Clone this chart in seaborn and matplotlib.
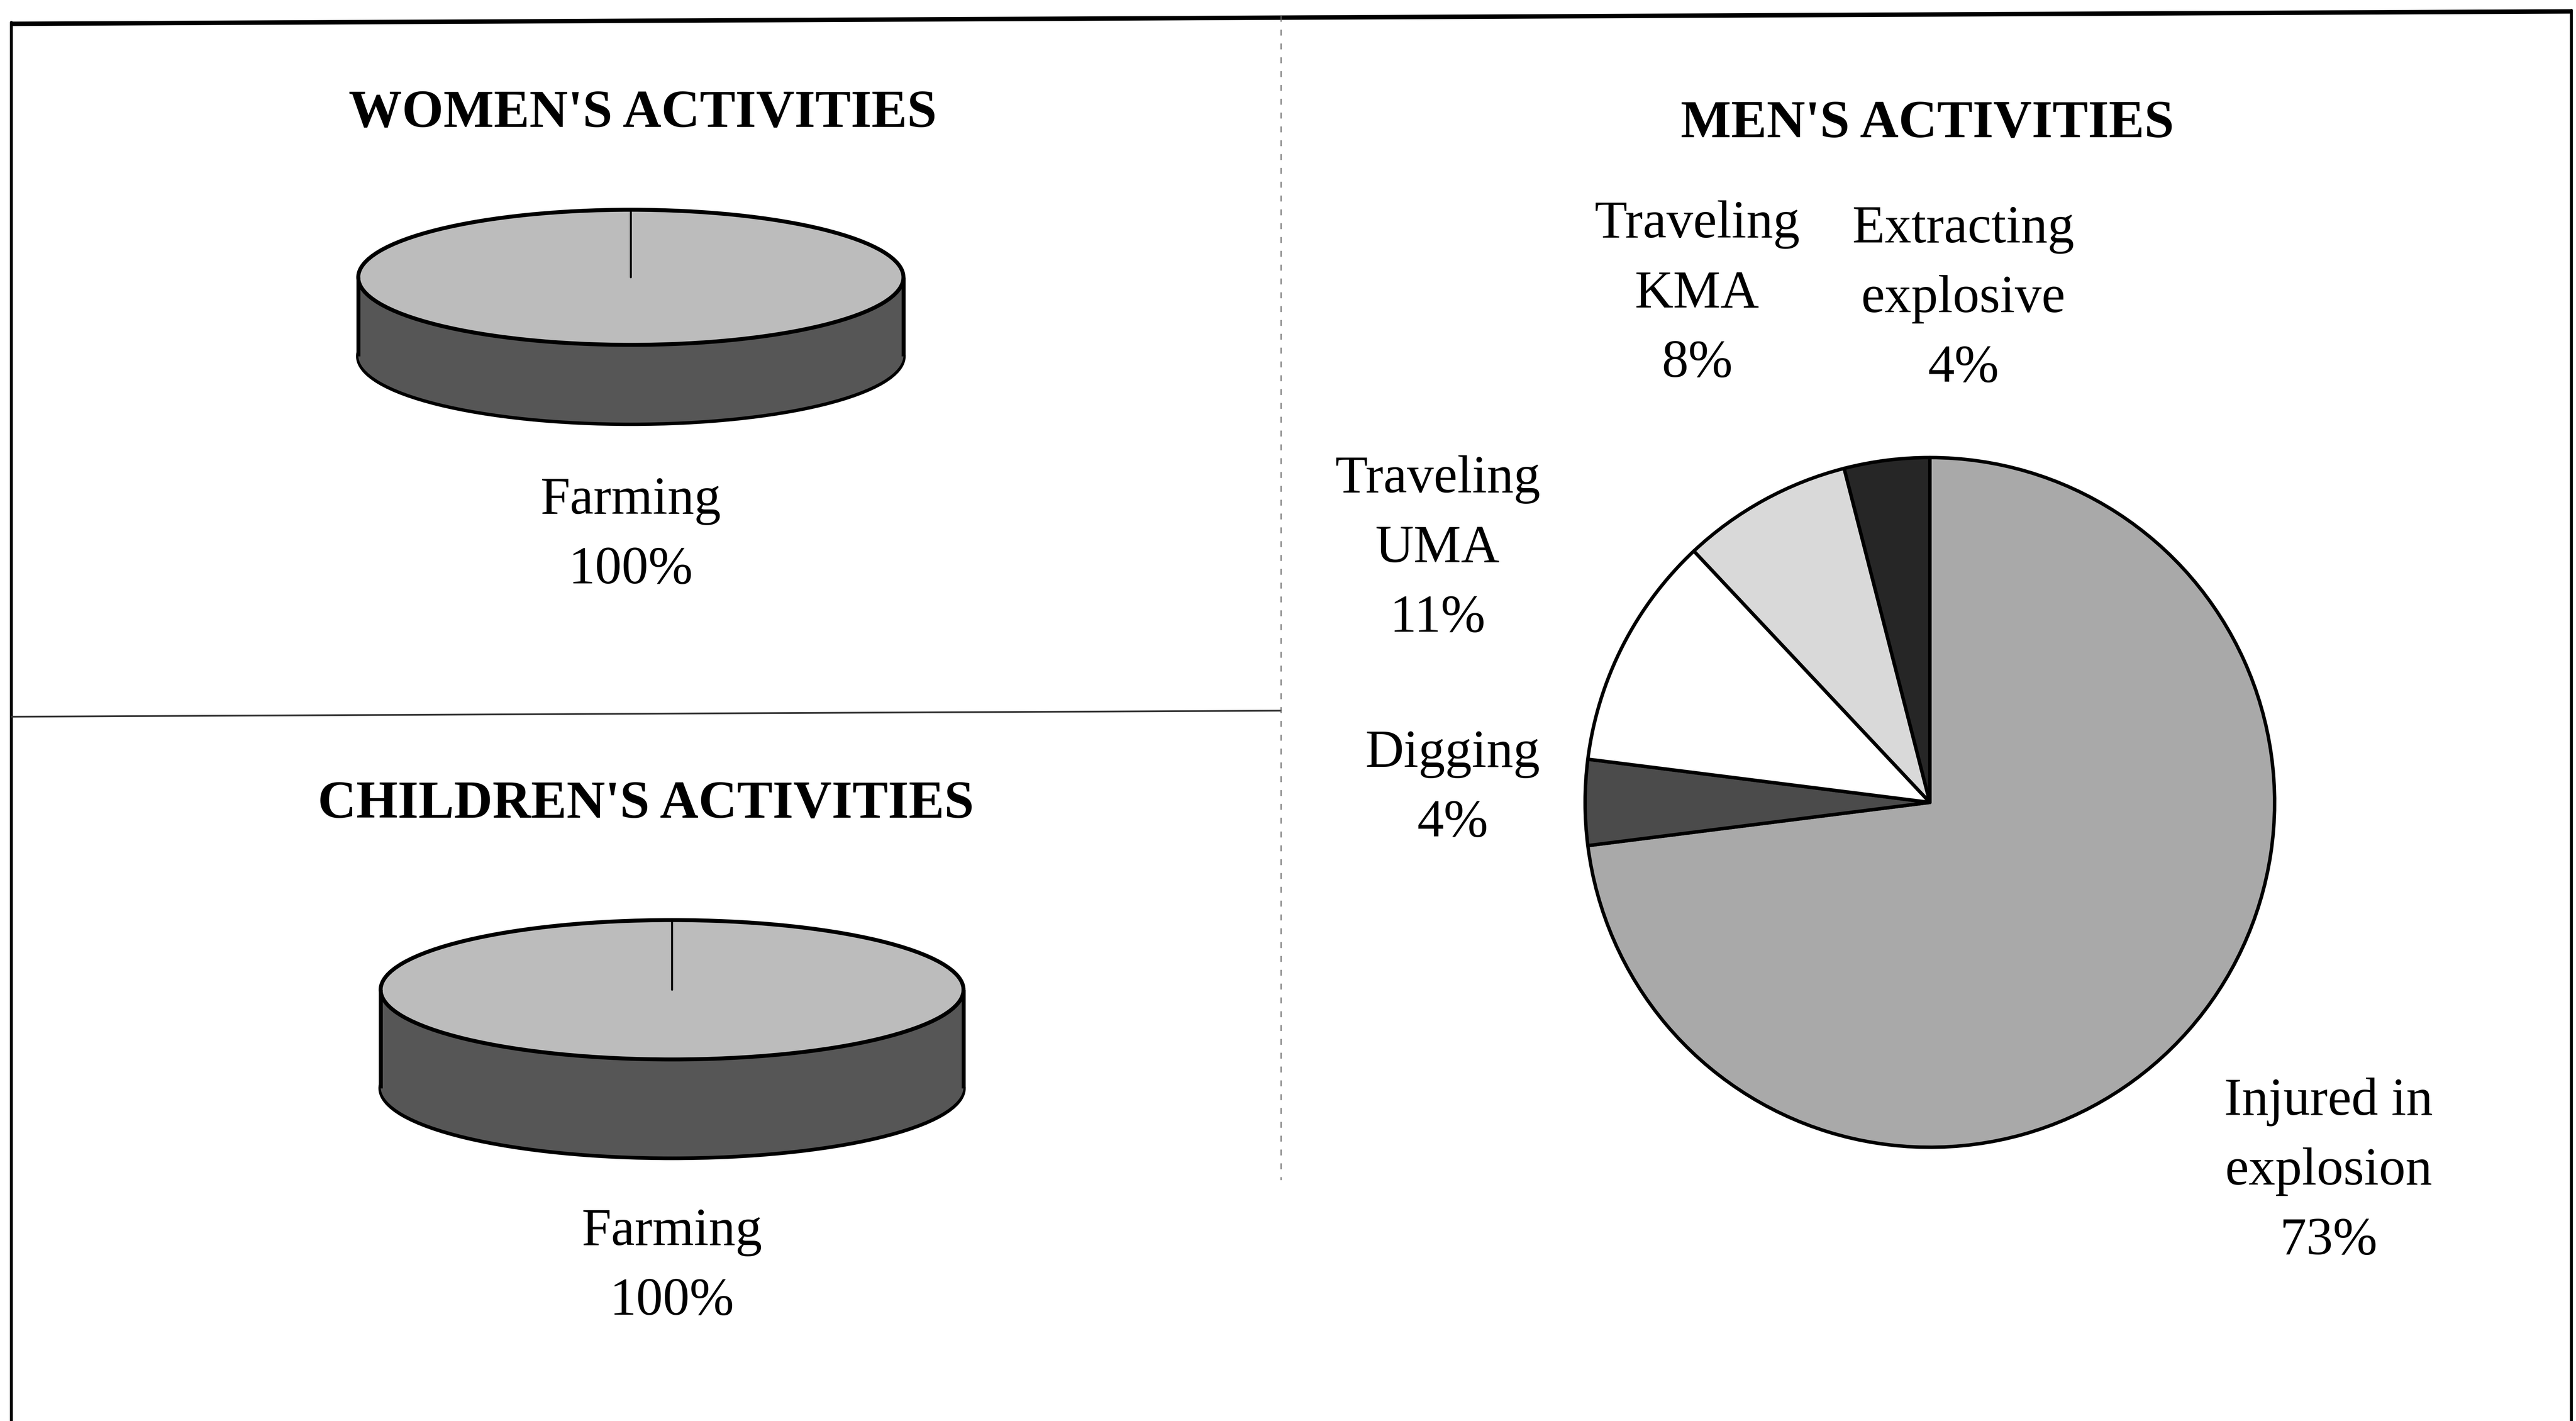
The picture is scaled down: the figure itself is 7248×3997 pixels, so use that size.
import numpy as np
import matplotlib
matplotlib.use("Agg")
import matplotlib.pyplot as plt
import seaborn as sns

# data
women_labels = ["Farming"]
women_values = [100]

children_labels = ["Farming"]
children_values = [100]

men_labels = ["Injured in\nexplosion", "Digging", "Traveling\nUMA",
              "Traveling\nKMA", "Extracting\nexplosive"]
men_values = [73, 4, 11, 8, 4]

titles = ["WOMEN'S ACTIVITIES", "CHILDREN'S ACTIVITIES", "MEN'S ACTIVITIES"]

# greys of the scanned print
men_colors = ["#a9a9a9", "#4b4b4b", "#ffffff", "#d9d9d9", "#262626"]
disc_top = "#bcbcbc"
disc_side = "#565656"

sns.set_theme(style="white")
plt.rcParams["font.family"] = ["Liberation Serif", "DejaVu Serif"]
plt.rcParams["text.color"] = "black"

W, H = 7249, 3998
fig = plt.figure(figsize=(W / 100, H / 100), dpi=100)
fig.patch.set_facecolor("white")

# background axes in pixel units for frame lines and text
bg = fig.add_axes([0, 0, 1, 1])
bg.set_xlim(0, W)
bg.set_ylim(H, 0)
bg.axis("off")


def px_axes(x0, y0, x1, y1):
    return fig.add_axes([x0 / W, 1 - y1 / H, (x1 - x0) / W, (y1 - y0) / H])


PAD = 1.03
FS = 108
STEP = 196


def write_label(x, y, text):
    for i, line in enumerate(text.split("\n")):
        bg.text(x, y + i * STEP, line, ha="center", va="baseline",
                fontsize=FS, color="black")


def flat_disc(cx, cy, rx, ry, depth, values):
    d = depth / ry
    ax = px_axes(cx - rx * PAD, cy - ry * PAD, cx + rx * PAD, cy + ry * PAD + depth)
    n = len(values)
    # cylinder wall: stack of pies from the base up
    for k, c in enumerate(np.linspace(-d, 0, 70)[:-1]):
        ax.pie(values, center=(0, c), colors=[disc_side] * n, startangle=90,
               counterclock=False,
               wedgeprops=dict(edgecolor="black", linewidth=9 if k == 0 else 0,
                               joinstyle="round"))
    ax.vlines([-1, 1], -d, 0, color="black", lw=8)
    ax.pie(values, center=(0, 0), colors=[disc_top] * n, startangle=90,
           counterclock=False,
           wedgeprops=dict(edgecolor="black", linewidth=8, joinstyle="round"))
    # seam where the single slice starts
    a = np.deg2rad(90)
    ax.plot([0, np.cos(a)], [0, np.sin(a)], color="black", lw=4)
    ax.set_aspect("auto")
    ax.set_xlim(-PAD, PAD)
    ax.set_ylim(-(PAD + d), PAD)
    ax.axis("off")


# women
flat_disc(1775, 781, 767, 190, 222, women_values)
bg.text(1808, 357, titles[0], ha="center", va="baseline", fontsize=FS,
        fontweight="bold", color="black")
write_label(1775, 1445, f"{women_labels[0]}\n{women_values[0]}%")

# children
flat_disc(1891, 2785, 820, 196, 277, children_values)
bg.text(1817, 2300, titles[1], ha="center", va="baseline", fontsize=FS,
        fontweight="bold", color="black")
write_label(1891, 3502, f"{children_labels[0]}\n{children_values[0]}%")

# men
cx, cy, r = 5430, 2258, 970
ax_m = px_axes(cx - r * PAD, cy - r * PAD, cx + r * PAD, cy + r * PAD)
ax_m.pie(men_values, colors=men_colors, startangle=90, counterclock=False,
         wedgeprops=dict(edgecolor="black", linewidth=7, joinstyle="round"))
ax_m.set_aspect("auto")
ax_m.set_xlim(-PAD, PAD)
ax_m.set_ylim(-PAD, PAD)
ax_m.axis("off")
bg.text(5423, 386, titles[2], ha="center", va="baseline", fontsize=FS,
        fontweight="bold", color="black")

men_label_pos = [(6552, 3136), (4087, 2157), (4045, 1385), (4775, 668), (5524, 682)]
for (x, y), lab, v in zip(men_label_pos, men_labels, men_values):
    write_label(x, y, f"{lab}\n{v}%")

# frame and dividers
bg.plot([32, 7235], [68, 33], color="black", lw=9, solid_capstyle="butt")
bg.plot([32, 32], [64, H], color="black", lw=6)
bg.plot([7235, 7235], [30, H], color="black", lw=6)
bg.plot([32, 3604], [2017, 2000], color="#333333", lw=3.5)
bg.plot([3604, 3604], [45, 3320], color="#666666", lw=2, ls=(0, (6, 8)))

fig.savefig("out.png", dpi=100, facecolor="white")
